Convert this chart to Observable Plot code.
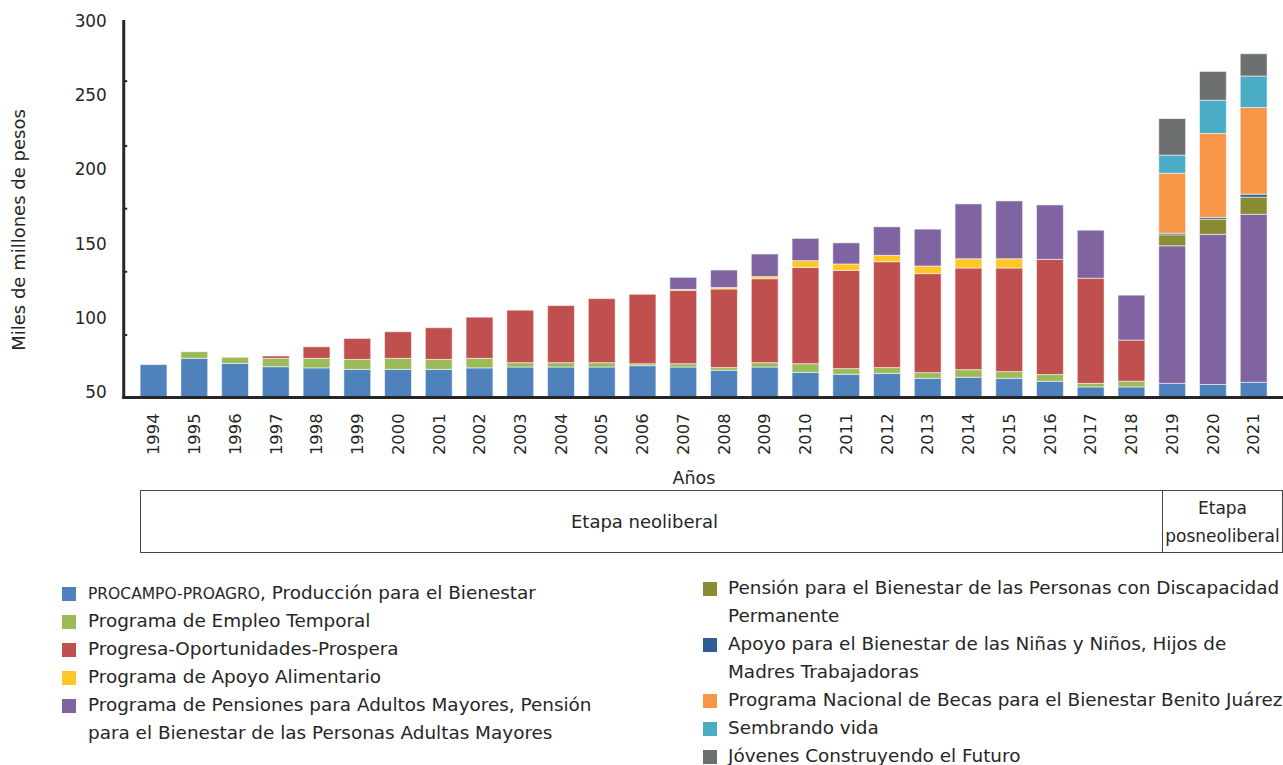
<!DOCTYPE html>
<html><head><meta charset="utf-8">
<script src="https://cdn.jsdelivr.net/npm/d3@7"></script>
<script src="https://cdn.jsdelivr.net/npm/@observablehq/plot@0.6"></script>
<style>
body{margin:0;overflow:hidden;background:#fff;font-family:"DejaVu Sans",Verdana,sans-serif;color:#262626;}
#wrap{position:relative;width:1283px;height:765px;overflow:hidden;}
#chart{position:absolute;left:0;top:0;}
.box{position:absolute;border:1px solid #444;box-sizing:border-box;display:flex;align-items:center;justify-content:center;text-align:center;font-size:18px;line-height:28px;}
.leg{position:absolute;font-size:18.4px;line-height:28px;white-space:nowrap;}
.sw{position:absolute;width:14px;height:14px;}
.small{font-size:15.5px;}
#ytitle{position:absolute;left:18px;top:230px;transform:translate(-50%,-50%) rotate(-90deg);font-size:18px;white-space:nowrap;}
#xtitle{position:absolute;left:694px;top:478px;transform:translate(-50%,-50%);font-size:17.5px;white-space:nowrap;}
</style></head>
<body>
<div id="wrap">
<div id="chart"></div>
<div id="ytitle">Miles de millones de pesos</div>
<div id="xtitle">Años</div>
</div>
<script>
const years = ["1994","1995","1996","1997","1998","1999","2000","2001","2002","2003","2004","2005","2006","2007","2008","2009","2010","2011","2012","2013","2014","2015","2016","2017","2018","2019","2020","2021"];
const procampo     = [68.8,73.0,69.6,67.4,66.6,65.6,65.6,65.6,66.6,67.2,67.2,67.2,68.1,67.2,65.0,67.2,63.6,62.3,62.9,59.6,60.3,59.6,57.6,53.8,53.8,56.2,55.4,56.9];
const empleo       = [0,4.5,4.1,5.6,6.4,6.7,7.4,6.7,6.4,2.9,2.9,2.9,1.3,2.2,1.8,2.9,5.8,3.8,3.9,3.8,5.1,4.5,4.5,2.4,3.8,0,0,0];
const progresa     = [0,0,0,1.6,7.8,14.1,17.9,21.3,27.7,35.3,38.4,43.1,46.7,49.4,52.9,56.5,64.8,66.1,71.2,66.6,68.4,69.7,77.5,70.7,27.7,0,0,0];
const alimentario  = [0,0,0,0,0,0,0,0,0,0,0,0,0,0.6,0.9,1.4,4.5,4.3,4.3,5.1,6.2,6.2,0,0,0,0,0,0];
const adultos      = [0,0,0,0,0,0,0,0,0,0,0,0,0,8.1,11.8,15.2,15.0,14.2,19.2,24.8,36.9,38.9,36.6,32.3,30.2,92.5,101.0,113.0];
const discapacidad = [0,0,0,0,0,0,0,0,0,0,0,0,0,0,0,0,0,0,0,0,0,0,0,0,0,7.4,10.2,11.6];
const ninos        = [0,0,0,0,0,0,0,0,0,0,0,0,0,0,0,0,0,0,0,0,0,0,0,0,0,1.1,1.2,1.9];
const becas        = [0,0,0,0,0,0,0,0,0,0,0,0,0,0,0,0,0,0,0,0,0,0,0,0,0,40.3,56.5,58.3];
const sembrando    = [0,0,0,0,0,0,0,0,0,0,0,0,0,0,0,0,0,0,0,0,0,0,0,0,0,12.2,22.3,21.2];
const jovenes      = [0,0,0,0,0,0,0,0,0,0,0,0,0,0,0,0,0,0,0,0,0,0,0,0,0,24.6,19.4,15.0];

const programs = [
  "PROCAMPO-PROAGRO, Producción para el Bienestar",
  "Programa de Empleo Temporal",
  "Progresa-Oportunidades-Prospera",
  "Programa de Apoyo Alimentario",
  "Programa de Pensiones para Adultos Mayores, Pensión para el Bienestar de las Personas Adultas Mayores",
  "Pensión para el Bienestar de las Personas con Discapacidad Permanente",
  "Apoyo para el Bienestar de las Niñas y Niños, Hijos de Madres Trabajadoras",
  "Programa Nacional de Becas para el Bienestar Benito Juárez",
  "Sembrando vida",
  "Jóvenes Construyendo el Futuro"
];
const seriesValues = [procampo, empleo, progresa, alimentario, adultos, discapacidad, ninos, becas, sembrando, jovenes];
const colors = ["#4F81BD","#9BBB59","#C0504D","#FFC726","#8064A2","#8A8C33","#2F5D93","#F79646","#4BACC6","#6C7070"];
const yTicks = [50,100,150,200,250,300];
const minorTicks = [89,131.6,174,216.2,259.8];

const table = [];
programs.forEach((p,i) => years.forEach((y,j) => table.push({year:y, program:p, value:seriesValues[i][j]})));

const chart = Plot.plot({
  width: 1291, height: 490,
  marginLeft: 124, marginRight: 0, marginTop: 21, marginBottom: 90.5,
  style: {fontFamily: "DejaVu Sans, Verdana, sans-serif", fontSize: "16px", color: "#262626", overflow: "visible", background: "white"},
  x: {domain: years, paddingInner: 0.35, paddingOuter: 0.175},
  y: {domain: [47, 300]},
  color: {domain: programs, range: colors},
  marks: [
    Plot.barY(table, {x: "year", y: "value", fill: "program", stroke: "white", strokeOpacity: 0.55, strokeWidth: 1, clip: true}),
    Plot.axisY({ticks: yTicks, tickSize: 0, tickPadding: 17, fontSize: 17, label: null}),
    Plot.axisY(minorTicks, {tickSize: -4, tickFormat: () => "", label: null, strokeWidth: 2}),
    Plot.axisX({tickRotate: -90, tickSize: 0, tickPadding: 16, fontSize: 16.5, label: null}),
    Plot.frame({anchor: "left", strokeWidth: 3}),
    Plot.frame({anchor: "bottom", strokeWidth: 3})
  ]
});
document.getElementById("chart").appendChild(chart);

const wrap = document.getElementById("wrap");
function box(left, width, html, fs){
  const d = document.createElement("div");
  d.className = "box";
  d.style.left = left + "px"; d.style.top = "490px"; d.style.width = width + "px"; d.style.height = "63px";
  if (fs) d.style.fontSize = fs + "px";
  d.innerHTML = html;
  wrap.appendChild(d);
}
box(140, 1023, "<span style='margin-left:-14px'>Etapa neoliberal</span>");
box(1162, 121, "Etapa<br>posneoliberal", 17);

// legend
const legLeft = [
  {i:0, top:593, html:'<span class="small">PROCAMPO-PROAGRO</span>, Producción para el Bienestar'},
  {i:1, top:621, html:'Programa de Empleo Temporal'},
  {i:2, top:649, html:'Progresa-Oportunidades-Prospera'},
  {i:3, top:677, html:'Programa de Apoyo Alimentario'},
  {i:4, top:705, html:'Programa de Pensiones para Adultos Mayores, Pensión<br>para el Bienestar de las Personas Adultas Mayores'}
];
const legRight = [
  {i:5, top:588, html:'Pensión para el Bienestar de las Personas con Discapacidad<br>Permanente'},
  {i:6, top:644, html:'Apoyo para el Bienestar de las Niñas y Niños, Hijos de<br>Madres Trabajadoras'},
  {i:7, top:700, html:'Programa Nacional de Becas para el Bienestar Benito Juárez'},
  {i:8, top:728, html:'Sembrando vida'},
  {i:9, top:756, html:'Jóvenes Construyendo el Futuro'}
];
function legend(items, swX, textX){
  items.forEach(it => {
    const s = document.createElement("div");
    s.className = "sw";
    s.style.left = swX + "px"; s.style.top = (it.top - 6) + "px"; s.style.background = colors[it.i];
    wrap.appendChild(s);
    const t = document.createElement("div");
    t.className = "leg";
    t.style.left = textX + "px"; t.style.top = (it.top - 14) + "px";
    t.innerHTML = it.html;
    wrap.appendChild(t);
  });
}
legend(legLeft, 62, 88);
legend(legRight, 703, 728);
</script>
</body></html>
